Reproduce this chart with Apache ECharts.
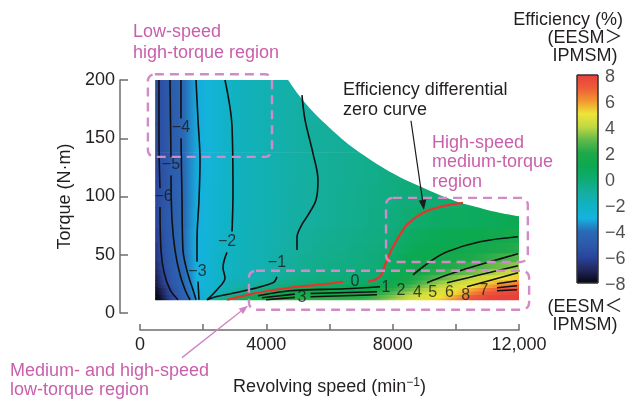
<!DOCTYPE html>
<html><head><meta charset="utf-8">
<script src="https://cdn.jsdelivr.net/npm/echarts@6/dist/echarts.min.js"></script>
<style>html,body{margin:0;padding:0;background:#fff}#c{width:632px;height:401px}</style>
</head><body><div id="c"></div>
<script>
const FONT = '"Liberation Sans", Arial, Helvetica, "Noto Sans CJK JP", sans-serif';
const TXT = '#231f20';
const PINK = '#c95fab';
const PINK_BOX = '#d28bc7';

// ---- axes ----
const X_MIN = 0, X_MAX = 12000, X_STEP = 2000;
const X_TICK_LABELS = {0: '0', 4000: '4000', 8000: '8000', 12000: '12,000'};
const Y_MIN = 0, Y_MAX = 200, Y_STEP = 50;
const CBAR_MIN = -8, CBAR_MAX = 8;
const CBAR_TICKS = [-8, -6, -4, -2, 0, 2, 4, 6, 8];

// ---- colour scale, one colour per integer value -8..8 ----
const SCALE_COLORS = ['#050510','#202658','#2a449c','#2d5aab','#2a6ab6','#14b4e0','#10b2c2','#15ae9f',
  '#0fab72','#0ba950','#1ea94a','#62b94b','#c2d842','#eee437','#f29530','#ed5b39','#e8403c'];

// ---- efficiency differential field ----
const SPEED_NODES = [480,600,750,900,1050,1200,1400,1600,1800,2100,2500,3000,3500,4000,4500,5000,5500,6000,6500,7000,7500,8000,8500,9000,9500,10000,10500,11000,11500,12000];
const TORQUE_ROWS = [11,14,17,20,23,26,30,35,40,47,55,65,80,100,125,150,175,200];
const EFF_T011 = [-8,-7.8,-7.3,-6.5,-5.8,-5.2,-4.6,-4.0,-3.3,-2.3,-0.5,0.8,1.6,2.0,2.2,2.3,2.4,2.4,2.4,2.5,3.0,3.7,4.4,4.8,5.3,6.2,7.4,7.9,8,8];
const EFF_T014 = [-8,-7.7,-7.0,-6.3,-5.7,-5.1,-4.5,-3.9,-3.2,-2.4,-1.0,-0.2,0.6,1.3,1.7,1.9,2.0,2.1,2.1,2.1,2.6,3.3,4.1,4.6,5.0,5.8,7.0,7.7,7.9,8];
const EFF_T017 = [-7.9,-7.5,-6.8,-6.1,-5.5,-5.0,-4.4,-3.8,-3.1,-2.5,-1.7,-0.7,-0.2,0.4,1.0,1.3,1.5,1.6,1.6,1.7,2.1,2.8,3.6,4.3,4.7,5.2,6.3,7.2,7.6,7.8];
const EFF_T020 = [-7.8,-7.3,-6.7,-6.0,-5.4,-4.9,-4.3,-3.75,-3.1,-2.6,-2.0,-1.1,-0.7,-0.3,0.2,0.6,0.9,1.1,1.2,1.2,1.5,2.2,3.0,3.8,4.5,4.8,5.7,6.6,7.2,7.5];
const EFF_T023 = [-7.6,-7.0,-6.4,-5.75,-5.2,-4.8,-4.25,-3.7,-3.05,-2.65,-2.2,-1.4,-1.0,-0.7,-0.2,0.0,0.3,0.5,0.6,0.6,1.0,1.7,2.5,3.3,4.0,4.5,5.0,5.8,6.5,7.0];
const EFF_T026 = [-7.4,-6.8,-6.1,-5.5,-5.0,-4.65,-4.2,-3.65,-3.0,-2.7,-2.15,-1.6,-1.3,-1.0,-0.5,-0.3,-0.1,0.0,0.1,0.15,0.5,1.3,2.0,2.8,3.5,4.0,4.6,5.2,5.8,6.3];
const EFF_T030 = [-7.3,-6.7,-6.0,-5.4,-4.95,-4.6,-4.15,-3.6,-3.0,-2.7,-2.15,-1.8,-1.5,-1.25,-0.8,-0.5,-0.3,-0.2,-0.1,-0.05,0.05,1.0,1.6,2.3,2.9,3.4,4.0,4.5,4.9,5.3];
const EFF_T035 = [-7.1,-6.5,-5.8,-5.3,-4.85,-4.5,-4.05,-3.55,-3.0,-2.7,-2.2,-1.9,-1.65,-1.3,-0.95,-0.7,-0.5,-0.35,-0.25,-0.15,-0.05,0.7,1.3,1.8,2.3,2.7,3.1,3.6,4.0,4.3];
const EFF_T040 = [-6.9,-6.3,-5.6,-5.15,-4.8,-4.45,-4.0,-3.5,-3.05,-2.7,-2.2,-1.9,-1.7,-1.4,-1.05,-0.8,-0.6,-0.45,-0.35,-0.25,-0.1,0.5,1.1,1.4,1.8,2.1,2.5,2.9,3.2,3.5];
const EFF_T047 = [-6.7,-6.1,-5.5,-5.1,-4.75,-4.4,-3.95,-3.5,-3.05,-2.7,-2.2,-1.9,-1.7,-1.45,-1.1,-0.85,-0.7,-0.55,-0.45,-0.3,-0.15,0.3,0.9,1.1,1.4,1.6,1.9,2.2,2.5,2.8];
const EFF_T055 = [-6.6,-6.0,-5.45,-5.05,-4.7,-4.4,-3.95,-3.45,-3.05,-2.7,-2.25,-1.9,-1.7,-1.5,-1.2,-0.95,-0.75,-0.6,-0.5,-0.35,-0.2,0.05,0.7,0.9,1.1,1.2,1.4,1.6,1.9,2.1];
const EFF_T065 = [-6.3,-5.8,-5.35,-5.0,-4.7,-4.4,-3.95,-3.45,-3.05,-2.7,-2.3,-1.9,-1.7,-1.5,-1.25,-1.0,-0.85,-0.7,-0.55,-0.45,-0.3,-0.1,0.35,0.7,0.85,0.95,1.05,1.2,1.4,1.6];
const EFF_T080 = [-6.1,-5.6,-5.25,-4.95,-4.7,-4.45,-4.0,-3.5,-3.1,-2.75,-2.35,-1.95,-1.75,-1.55,-1.3,-1.1,-1.0,-0.85,-0.7,-0.55,-0.4,-0.25,0.0,0.25,0.4,0.5,0.6,0.7,0.8,0.9];
const EFF_T100 = [-6.0,-5.6,-5.3,-5.0,-4.75,-4.5,-4.05,-3.55,-3.1,-2.75,-2.35,-1.95,-1.75,-1.55,-1.3,-1.1,-1.0,-0.85,-0.7,-0.6,-0.45,-0.3,-0.15,-0.1,-0.02,0.05,0.3,null,null,null];
const EFF_T125 = [-5.9,-5.6,-5.3,-5.05,-4.8,-4.55,-4.05,-3.55,-3.15,-2.8,-2.4,-1.95,-1.75,-1.55,-1.35,-1.15,-1.0,-0.85,-0.75,-0.65,-0.5,-0.35,-0.25,null,null,null,null,null,null,null];
const EFF_T150 = [-5.9,-5.6,-5.3,-5.05,-4.8,-4.55,-4.05,-3.55,-3.15,-2.8,-2.4,-1.95,-1.75,-1.55,-1.35,-1.15,-0.95,-0.9,-0.8,null,null,null,null,null,null,null,null,null,null,null];
const EFF_T175 = [-5.9,-5.6,-5.3,-5.05,-4.8,-4.55,-4.05,-3.55,-3.15,-2.8,-2.4,-1.95,-1.75,-1.55,-1.35,-1.15,-1.05,null,null,null,null,null,null,null,null,null,null,null,null,null];
const EFF_T200 = [-5.8,-5.6,-5.3,-5.05,-4.8,-4.55,-4.05,-3.55,-3.15,-2.8,-2.4,-1.95,-1.75,-1.55,-1.35,-1.15,null,null,null,null,null,null,null,null,null,null,null,null,null,null];
const EFF_GRID = [EFF_T011,EFF_T014,EFF_T017,EFF_T020,EFF_T023,EFF_T026,EFF_T030,EFF_T035,EFF_T040,EFF_T047,EFF_T055,EFF_T065,EFF_T080,EFF_T100,EFF_T125,EFF_T150,EFF_T175,EFF_T200];

// ---- maximum torque curve ----
const LIMIT_SPEED  = [4690,5000,5500,6000,6500,7000,7500,8000,8500,9000,9500,10000,10500,11000,11500,12000];
const LIMIT_TORQUE = [200,188,172,159,147,137,128,120,113,107,101,96,92,88.5,85.5,83];

// ---- contour lines [speed, torque] ----
const C_M6_A = [[601,200],[601,148],[633,107]];
const C_M6_B = [[633,91],[665,54],[760,35],[950,20],[1203,11.4]];
const C_M5_A = [[950,200],[981,134]];
const C_M5_B = [[981,118],[1013,80],[1108,54],[1266,33],[1456,18],[1583,11.4]];
const C_M4_A = [[1298,200],[1298,167]];
const C_M4_B = [[1298,150],[1330,97],[1361,54],[1520,33],[1678,20],[1773,11.4]];
const C_M3_A = [[1773,200],[1836,166],[1900,131],[1868,97],[1805,63],[1805,44]];
const C_M3_B = [[1836,27],[1868,11.4]];
const C_M2_A = [[2691,200],[2913,160],[2944,103],[2913,70]];
const C_M2_B = [[2754,52],[2628,39],[2691,30],[2438,20],[2121,11.4]];
const C_M1_A = [[5129,187],[5224,166],[5477,137],[5635,114],[5572,97],[5319,84],[5129,76],[4971,65],[4971,54]];
const C_M1_B = [[4337,31],[4211,26],[3166,18.2],[2428,14.2],[2121,11.4]];
const C_P1   = [[3736,14.8],[4749,19.1],[6490,20.8],[7598,22.5]];
const C_P2_A = [[3863,13.1],[4900,16.2]];
const C_P2_B = [[5400,16.8],[7503,18.3]];
const C_P3_A = [[3990,11.4],[4900,13.4]];
const C_P3_B = [[5400,13.9],[7503,15.7]];
const C_P4   = [[8643,32.8],[9181,44],[9720,52.5],[10764,61.1],[11967,65.4]];
const C_P5   = [[9086,25.9],[9656,31.9],[10226,37.1],[11081,44],[11967,50.8]];
const C_P6   = [[9720,25.9],[10764,32.8],[11967,40.5]];
const C_P7   = [[10353,22.5],[11967,34.5]];
const C_P8_A = [[11303,25.1],[11936,27.7]];
const C_P8_B = [[11303,21.7],[11936,23.4]];
const C_P8_C = [[11303,19.1],[11936,20.0]];
const CONTOURS = [C_M6_A,C_M6_B,C_M5_A,C_M5_B,C_M4_A,C_M4_B,C_M3_A,C_M3_B,C_M2_A,C_M2_B,C_M1_A,C_M1_B,
  C_P1,C_P2_A,C_P2_B,C_P3_A,C_P3_B,C_P4,C_P5,C_P6,C_P7,C_P8_A,C_P8_B,C_P8_C];

// ---- efficiency differential zero curve ----
const ZERO_A = [[2754,11.4],[3166,14],[3704,17.4],[4749,21.7],[5699,24.3],[6427,26.8]];
const ZERO_B = [[7218,26.8],[7598,31.1],[7757,41.4],[8010,56.8],[8232,67.1],[8453,75.7],[8960,86],[9498,91.1],[10226,94.5]];

// ---- contour labels ----
const LABEL_TEXT   = ['−4','−5','−6','−3','−2','−1','0','1','2','3','4','5','6','8','7'];
const LABEL_SPEED  = [1298,981,744,1820,2755,4337,6807,7788,8263,5129,8786,9270,9799,10315,10891];
const LABEL_TORQUE = [159,127,100,35.7,61.4,43.4,27.1,21.4,19.4,12.9,17.1,17.1,17.1,15.1,19.1];

// ---- annotation boxes: [speedFrom, speedTo, torqueTop, torqueBottom] ----
const BOX_LOW_SPEED  = [250, 4180, 205, 134];
const BOX_HIGH_SPEED = [7790, 12280, 98.8, 43.8];
const BOX_LOW_TORQUE = [3450, 12320, 36.3, 2.8];
const ARROW_PINK  = [[1330, -38.3], [3419, 6.3]];
const ARROW_BLACK = [[8580, 165], [8990, 88.5]];

function hexToRgb(h){ const n = parseInt(h.slice(1), 16); return [(n>>16)&255, (n>>8)&255, n&255]; }
const SCALE_RGB = SCALE_COLORS.map(hexToRgb);
function valueColor(v){
  const x = Math.max(CBAR_MIN, Math.min(CBAR_MAX, v)) - CBAR_MIN;
  const i = Math.min(SCALE_RGB.length - 2, Math.floor(x));
  const t = x - i;
  const a = SCALE_RGB[i], b = SCALE_RGB[i+1];
  return 'rgb(' + [0,1,2].map(k => Math.round(a[k] + (b[k]-a[k])*t)).join(',') + ')';
}
const minusFmt = v => v < 0 ? '−' + (-v) : String(v);

const chart = echarts.init(document.getElementById('c'), null, {renderer: 'canvas'});
const axisGray = '#6d6e71';

const fieldSeries = {
  type: 'custom', coordinateSystem: 'cartesian2d', xAxisIndex: 0, yAxisIndex: 0, silent: true, z: 1,
  data: TORQUE_ROWS.map((t, i) => [SPEED_NODES[0], t, i]),
  encode: {x: 0, y: 1},
  renderItem(params, api){
    const i = api.value(2);
    const n = TORQUE_ROWS.length;
    const lo = i === 0 ? TORQUE_ROWS[0] : (TORQUE_ROWS[i-1] + TORQUE_ROWS[i]) / 2;
    const hi = i === n-1 ? TORQUE_ROWS[n-1] : (TORQUE_ROWS[i] + TORQUE_ROWS[i+1]) / 2;
    const s0 = SPEED_NODES[0], s1 = SPEED_NODES[SPEED_NODES.length-1];
    const p0 = api.coord([s0, lo]), p1 = api.coord([s1, hi]);
    const stops = [];
    EFF_GRID[i].forEach((v, j) => { if (v !== null) stops.push({offset: (SPEED_NODES[j]-s0)/(s1-s0), color: valueColor(v)}); });
    const over = i === n-1 ? 0 : 0.6;
    return {type: 'rect', shape: {x: p0[0], y: p1[1] - over, width: p1[0]-p0[0], height: p0[1]-p1[1] + over},
      style: {fill: new echarts.graphic.LinearGradient(0, 0, 1, 0, stops)}};
  }
};

const maskSeries = {
  type: 'line', xAxisIndex: 0, yAxisIndex: 0, silent: true, z: 2, smooth: 0.3, symbol: 'none',
  data: LIMIT_SPEED.map((s, i) => [s, LIMIT_TORQUE[i]]),
  lineStyle: {width: 1, opacity: 0}, areaStyle: {color: '#ffffff', opacity: 1, origin: 'end'}
};

const contourSeries = CONTOURS.map(pts => ({
  type: 'line', xAxisIndex: 0, yAxisIndex: 0, silent: true, z: 3, smooth: 0.35, symbol: 'none',
  data: pts, lineStyle: {color: '#111111', width: 1.6}
}));

const zeroSeries = [ZERO_A, ZERO_B].map(pts => ({
  type: 'line', xAxisIndex: 0, yAxisIndex: 0, silent: true, z: 4, smooth: 0.35, symbol: 'none',
  data: pts, lineStyle: {color: '#e8332c', width: 2.2}
}));

const labelSeries = {
  type: 'scatter', xAxisIndex: 0, yAxisIndex: 0, silent: true, z: 5, symbolSize: 0.1,
  itemStyle: {color: 'transparent'},
  data: LABEL_TEXT.map((t, i) => ({name: t, value: [LABEL_SPEED[i], LABEL_TORQUE[i]]})),
  label: {show: true, position: 'inside', formatter: '{b}', color: '#1a1a1a', fontSize: 16, fontFamily: FONT}
};

const colorbarSeries = {
  type: 'custom', coordinateSystem: 'cartesian2d', xAxisIndex: 1, yAxisIndex: 1, silent: true,
  data: [[0, 0]],
  renderItem(params, api){
    const a = api.coord([0, CBAR_MIN]), b = api.coord([1, CBAR_MAX]);
    const stops = SCALE_COLORS.map((c, i) => ({offset: i/(SCALE_COLORS.length-1), color: c}));
    return {type: 'rect', shape: {x: a[0], y: b[1], width: b[0]-a[0], height: a[1]-b[1]},
      style: {fill: new echarts.graphic.LinearGradient(0, 1, 0, 0, stops), stroke: '#333', lineWidth: 1}};
  }
};

const colorbarLabelSeries = {
  type: 'scatter', xAxisIndex: 1, yAxisIndex: 1, silent: true, symbolSize: 0.1,
  itemStyle: {color: 'transparent'},
  data: CBAR_TICKS.map(v => ({name: minusFmt(v), value: [1, v]})),
  label: {show: true, position: 'right', distance: 7, offset: [0, 2], formatter: '{b}', color: TXT, fontSize: 18, fontFamily: FONT}
};

chart.setOption({
  animation: false,
  backgroundColor: '#ffffff',
  grid: [
    {left: 140, right: 113, top: 80, bottom: 87.7, show: false},
    {left: 577, top: 75, width: 21, height: 208, show: false}
  ],
  xAxis: [
    {type: 'value', gridIndex: 0, min: X_MIN, max: X_MAX, interval: X_STEP, offset: 17,
      axisLine: {show: true, onZero: false, lineStyle: {color: axisGray, width: 1.5}},
      axisTick: {show: true, inside: true, length: 6, lineStyle: {color: axisGray, width: 1.5}},
      axisLabel: {margin: 6, fontSize: 18, fontFamily: FONT, color: TXT, formatter: v => X_TICK_LABELS[v] !== undefined ? X_TICK_LABELS[v] : ''},
      splitLine: {show: false},
      name: 'Revolving speed (min{s|−1})', nameLocation: 'middle', nameGap: 47,
      nameTextStyle: {fontSize: 18, fontFamily: FONT, color: TXT, rich: {s: {fontSize: 12, fontFamily: FONT, color: TXT, verticalAlign: 'top', padding: [0, 0, 8, 0]}}}},
    {type: 'value', gridIndex: 1, min: 0, max: 1, show: false}
  ],
  yAxis: [
    {type: 'value', gridIndex: 0, min: Y_MIN, max: Y_MAX, interval: Y_STEP, offset: 20,
      axisLine: {show: true, onZero: false, lineStyle: {color: axisGray, width: 1.5}},
      axisTick: {show: true, inside: true, length: 8, lineStyle: {color: axisGray, width: 1.5}},
      axisLabel: {margin: 5, fontSize: 18, fontFamily: FONT, color: TXT},
      splitLine: {show: false},
      name: 'Torque (N·m)', nameLocation: 'middle', nameRotate: 90, nameGap: 46,
      nameTextStyle: {fontSize: 18, fontFamily: FONT, color: TXT}},
    {type: 'value', gridIndex: 1, min: CBAR_MIN, max: CBAR_MAX, show: false}
  ],
  series: [fieldSeries, maskSeries, ...contourSeries, ...zeroSeries, labelSeries, colorbarSeries, colorbarLabelSeries]
});

// ---- annotations ----
const px = p => chart.convertToPixel({gridIndex: 0}, p);
function boxGraphic(b){
  const a = px([b[0], b[2]]), c = px([b[1], b[3]]);
  return {type: 'rect', z: 100, silent: true, shape: {x: a[0], y: a[1], width: c[0]-a[0], height: c[1]-a[1], r: 7},
    style: {fill: 'none', stroke: PINK_BOX, lineWidth: 2.4, lineDash: [9, 6]}};
}
function arrowGraphic(seg, color, head, w){
  const p0 = px(seg[0]), p1 = px(seg[1]);
  const dx = p1[0]-p0[0], dy = p1[1]-p0[1], L = Math.hypot(dx, dy);
  const ux = dx/L, uy = dy/L;
  const bx = p1[0]-ux*head, by = p1[1]-uy*head;
  return [
    {type: 'line', z: 100, silent: true, shape: {x1: p0[0], y1: p0[1], x2: bx, y2: by}, style: {stroke: color, lineWidth: w}},
    {type: 'polygon', z: 100, silent: true, shape: {points: [[p1[0], p1[1]], [bx - uy*head*0.38, by + ux*head*0.38], [bx + uy*head*0.38, by - ux*head*0.38]]}, style: {fill: color}}
  ];
}
function textGraphic(text, x, y, color, align, lineHeight){
  return {type: 'text', z: 100, silent: true, x: x, y: y,
    style: {text: text, fill: color, font: '18px ' + FONT, align: align, verticalAlign: 'top', lineHeight: lineHeight}};
}
chart.setOption({graphic: [
  boxGraphic(BOX_LOW_SPEED), boxGraphic(BOX_HIGH_SPEED), boxGraphic(BOX_LOW_TORQUE),
  ...arrowGraphic(ARROW_PINK, '#d283c4', 9, 1.3),
  ...arrowGraphic(ARROW_BLACK, '#1a1a1a', 10, 1.2),
  textGraphic('Low-speed\nhigh-torque region', 133, 21.5, PINK, 'left', 21),
  textGraphic('Efficiency differential\nzero curve', 343, 80, TXT, 'left', 20),
  textGraphic('High-speed\nmedium-torque\nregion', 432, 133, PINK, 'left', 19.5),
  textGraphic('Medium- and high-speed\nlow-torque region', 10, 361, PINK, 'left', 19.5),
  textGraphic('Efficiency (%)', 623, 11, TXT, 'right', 18),
  textGraphic('(EESM＞\nIPMSM)', 585, 29, TXT, 'center', 18),
  textGraphic('(EESM＜\nIPMSM)', 585, 298, TXT, 'center', 18)
]});
</script>
</body></html>
